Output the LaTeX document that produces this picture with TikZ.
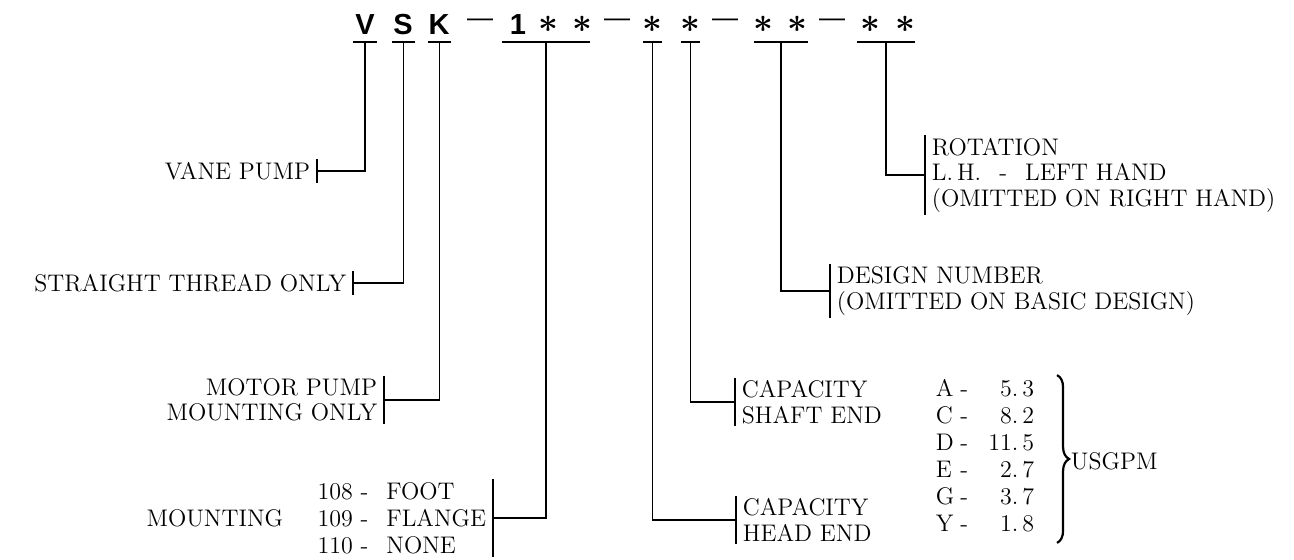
\documentclass[tikz,border=0pt]{standalone}
\usepackage{fontspec}
\usepackage{array}
\usepackage{tikz}
\usetikzlibrary{decorations.pathreplacing}
\newfontfamily\codefont{Liberation Sans}
\def\notesize{\fontsize{12}{12.75}\selectfont}
\def\listsize{\fontsize{12}{13.5}\selectfont}

\begin{document}
\begin{tikzpicture}[x=0.5pt,y=-0.5pt,line width=0.9pt]
    \tikzstyle{code letter}=[font=\codefont\bfseries\fontsize{14.5}{14.5}\selectfont, inner sep=0pt, anchor=base]
    \tikzstyle{code star}=[font=\fontsize{17}{17}\selectfont\boldmath, inner sep=0pt]
    \tikzstyle{code dash}=[font=\codefont\fontsize{13}{13}\selectfont, inner sep=0pt]
    \tikzstyle{note}=[font=\notesize, inner xsep=3pt, inner ysep=1pt]

    \useasboundingbox (0,0) rectangle (1294,560);

    % Draw the model code
    \node[code letter] (V) at (365,35) {V};
    \node[code letter] (S) at (403,35) {S};
    \node[code letter] (K) at (439,35) {K};
    \node[code letter] (one) at (518,35) {1};
    \foreach \name / \x in {1/548,2/582,3/652,4/690,5/763,6/797,7/870,8/905}
        \node[code star] (star-\name) at (\x,24) {$\ast$};
    \foreach \name / \x in {1/480,2/617,3/725,4/832}
        \node[code dash] (dash-\name) at (\x,23) {\textemdash};

    % Underline each part of the code
    \foreach \name / \a / \b in {V/353/377,S/392/415,K/428/451,M/502/590,H/643/662,C/681/700,D/754/808,R/857/915}
        \draw[line width=1.1pt] (\a,42) -- coordinate (u-\name) (\b,42);

    % Draw the notes on the left
    \node[note, anchor=east] (vane) at (317,171) {VANE PUMP};
    \node[note, anchor=east] (thread) at (353,283) {STRAIGHT THREAD ONLY};
    \node[note, anchor=east, align=right] (motor) at (384,400) {MOTOR PUMP\\MOUNTING ONLY};
    \node[note, anchor=east, align=left, font=\listsize] (mount) at (493,518)
        {108 -\hspace{9pt}FOOT\\109 -\hspace{9pt}FLANGE\\110 -\hspace{9pt}NONE};
    \node[note, anchor=east] (mtg) at (290,518) {MOUNTING};

    % Draw the notes on the right
    \node[note, anchor=west, align=left] (head) at (736,520) {CAPACITY\\HEAD END};
    \node[note, anchor=west, align=left] (shaft) at (735,402) {CAPACITY\\SHAFT END};
    \node[note, anchor=west, align=left] (design) at (830,291) {DESIGN NUMBER\\(OMITTED ON BASIC DESIGN)};
    \node[note, anchor=west, align=left] (rotation) at (925,175)
        {ROTATION\\L.\,H.\hspace{9pt}-\hspace{9pt}LEFT HAND\\(OMITTED ON RIGHT HAND)};

    % Capacity values
    \node[note, anchor=west, font=\listsize] (flow) at (929,459)
        {\begin{tabular}{@{}l@{\hspace{3pt}-\hspace{3pt}}>{\raggedleft\arraybackslash\addfontfeatures{LetterSpace=15}}p{30pt}@{}}
        A & 5.\,3\\ C & 8.\,2\\ D & 11.\,5\\ E & 2.\,7\\ G & 3.\,7\\ Y & 1.\,8
        \end{tabular}};
    \draw[line width=1.1pt, decorate, decoration={brace, amplitude=6pt}]
        ([xshift=8pt]flow.north east) -- ([xshift=8pt]flow.south east);
    \node[note, anchor=west] (usgpm) at (1064,461) {USGPM};

    % Ticks beside the notes
    \foreach \n in {vane,thread,motor,mount}
        \draw (\n.north east) -- (\n.south east);
    \foreach \n in {head,shaft,design,rotation}
        \draw (\n.north west) -- (\n.south west);

    % Connect every part of the code with its note
    \draw (u-V) |- (vane.east);
    \draw (u-S) |- (thread.east);
    \draw (u-K) |- (motor.east);
    \draw (u-M) |- (mount.east);
    \draw (u-H) |- (head.west);
    \draw (u-C) |- (shaft.west);
    \draw (u-D) |- (design.west);
    \draw (u-R) |- (rotation.west);

\end{tikzpicture}
\end{document}
